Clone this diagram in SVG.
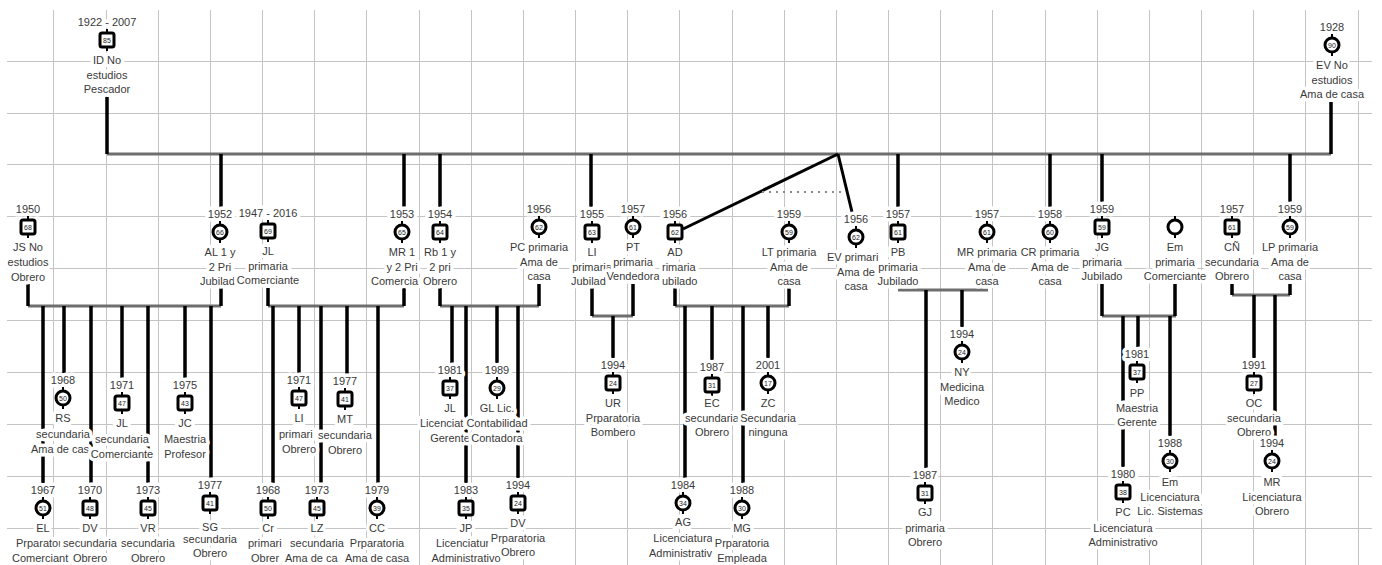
<svg xmlns="http://www.w3.org/2000/svg" xmlns:xlink="http://www.w3.org/1999/xlink" width="1382" height="565" viewBox="0 0 1382 565">
<style>
.g{stroke:#c4c4c4;stroke-width:1;fill:none}
.cp{stroke:#6e6e6e;stroke-width:3;fill:none}
.ln{stroke:#000;stroke-width:3.5;fill:none}
.dl{stroke:#000;stroke-width:3;fill:none}
.dt{stroke:#8a8a8a;stroke-width:2;stroke-dasharray:2 5;fill:none}
.t{font-family:"Liberation Sans",Arial,sans-serif;font-size:11px;fill:#3a3a3a;text-anchor:middle;stroke:#fff;stroke-width:7;stroke-linejoin:round;paint-order:stroke}
.s{text-anchor:start}
.n{font-family:"Liberation Sans",Arial,sans-serif;font-size:7px;fill:#222;text-anchor:middle}
</style>
<defs>
<g id="sq"><path d="M0,-11V-7M0,7V11" stroke="#000" stroke-width="2"/><rect x="-7" y="-7" width="14" height="14" rx="2" fill="#fff" stroke="#000" stroke-width="3"/></g>
<g id="ci"><path d="M0,-11V-7M0,7V11" stroke="#000" stroke-width="2"/><circle r="7" fill="#fff" stroke="#000" stroke-width="3"/></g>
</defs>
<rect width="1382" height="565" fill="#fff"/>
<g id="grid" class="g">
<path d="M53.5,10V565M106.5,10V565M158.5,10V565M210.5,10V565M262.5,10V565M314.5,10V565M366.5,10V565M419.5,10V565M471.5,10V565M523.5,10V565M575.5,10V565M627.5,10V565M679.5,10V565M732.5,10V565M784.5,10V565M836.5,10V565M888.5,10V565M940.5,10V565M992.5,10V565M1045.5,10V565M1097.5,10V565M1149.5,10V565M1201.5,10V565M1253.5,10V565M1305.5,10V565M1358.5,10V565"/>
<path d="M7,61.5H1372M7,113.5H1372M7,164.5H1372M7,216.5H1372M7,268.5H1372M7,320.5H1372M7,372.5H1372M7,424.5H1372M7,476.5H1372M7,528.5H1372"/>
</g>
<g id="connectors">
<path class="cp" d="M107,154H1331M28,306H221M268,306H404M440,306H539M592,316H633M675,306H789M898,290H988M1102,316H1176M1232,295H1290"/>
<path class="ln" d="M107,97V154M1331,102V154M221,154V207M404,154V207M440,154V207M591,154V207M898,154V207M1050,154V207M1102,154V202M1290,154V202"/>
<path class="dl" d="M838,154L683,229M838,154L852,212"/>
<path class="dt" d="M762,192H845"/>
<path class="ln" d="M28,284V306M221,288V306M43,306V483M64,306V373M91,306V483M122,306V378M148,306V483M185,306V378M211,306V478"/>
<path class="ln" d="M268,288V306M404,288V306M273,306V483M299,306V373M321,306V483M347,306V374M378,306V483"/>
<path class="ln" d="M440,288V306M539,284V306M452,306V363M466,306V483M497,306V363M518,306V478"/>
<path class="ln" d="M592,288V316M633,284V316M613,316V358"/>
<path class="ln" d="M675,288V306M789,288V306M685,306V478M712,306V360M743,306V483M768,306V358"/>
<path class="ln" d="M926,290V468M962,290V327"/>
<path class="ln" d="M1102,284V316M1175,284V316M1123,316V467M1138,316V347M1170,316V436"/>
<path class="ln" d="M1232,284V295M1290,284V295M1254,295V358M1275,295V436"/>
</g>
<g id="ID" transform="translate(107,40)"><text class="t" y="-14.5">1922 - 2007</text><use href="#sq"/><text class="n" y="2.5">85</text><text class="t" y="24">ID No</text><text class="t" y="38.5">estudios</text><text class="t" y="53">Pescador</text></g>
<g id="EV" transform="translate(1332,45)"><text class="t" y="-14.5">1928</text><use href="#ci"/><text class="n" y="2.5">90</text><text class="t" y="24">EV No</text><text class="t" y="38.5">estudios</text><text class="t" y="53">Ama de casa</text></g>
<g id="JS" transform="translate(28,227)"><text class="t" y="-14.5">1950</text><use href="#sq"/><text class="n" y="2.5">68</text><text class="t" y="24">JS No</text><text class="t" y="39">estudios</text><text class="t" y="54">Obrero</text></g>
<g id="AL" transform="translate(220,232)"><text class="t" y="-14.5">1952</text><use href="#ci"/><text class="n" y="2.5">66</text><text class="t" y="24">AL 1 y</text><text class="t" y="38.5">2 Pri</text><text class="t s" x="-20" y="53">Jubilad</text></g>
<g id="JL" transform="translate(268,231)"><text class="t" y="-14.5">1947 - 2016</text><use href="#sq"/><text class="n" y="2.5">69</text><text class="t" y="24">JL</text><text class="t" y="38.5">primaria</text><text class="t" y="53">Comerciante</text></g>
<g id="MR" transform="translate(402,232)"><text class="t" y="-14.5">1953</text><use href="#ci"/><text class="n" y="2.5">65</text><text class="t" y="24">MR 1</text><text class="t" y="38.5">y 2 Pri</text><text class="t s" x="-31" y="53">Comercia</text></g>
<g id="Rb" transform="translate(440,232)"><text class="t" y="-14.5">1954</text><use href="#sq"/><text class="n" y="2.5">64</text><text class="t" y="24">Rb 1 y</text><text class="t" y="38.5">2 pri</text><text class="t" y="53">Obrero</text></g>
<g id="PC" transform="translate(539,227)"><text class="t" y="-14.5">1956</text><use href="#ci"/><text class="n" y="2.5">62</text><text class="t" y="24">PC primaria</text><text class="t" y="38.5">Ama de</text><text class="t" y="53">casa</text></g>
<g id="LI" transform="translate(592,232)"><text class="t" y="-14.5">1955</text><use href="#sq"/><text class="n" y="2.5">63</text><text class="t" y="24">LI</text><text class="t" y="38.5">primaria</text><text class="t s" x="-21" y="53">Jubilad</text></g>
<g id="PT" transform="translate(633,227)"><text class="t" y="-14.5">1957</text><use href="#ci"/><text class="n" y="2.5">61</text><text class="t" y="24">PT</text><text class="t" y="38.5">primaria</text><text class="t" y="53">Vendedora</text></g>
<g id="AD" transform="translate(675,232)"><text class="t" y="-14.5">1956</text><use href="#sq"/><text class="n" y="2.5">62</text><text class="t" y="24">AD</text><text class="t s" x="-13" y="38.5">rimaria</text><text class="t s" x="-13" y="53">ubilado</text></g>
<g id="LT" transform="translate(789,232)"><text class="t" y="-14.5">1959</text><use href="#ci"/><text class="n" y="2.5">59</text><text class="t" y="24">LT primaria</text><text class="t" y="38.5">Ama de</text><text class="t" y="53">casa</text></g>
<g id="EV2" transform="translate(856,237)"><text class="t" y="-14.5">1956</text><use href="#ci"/><text class="n" y="2.5">62</text><text class="t s" x="-29" y="24">EV primari</text><text class="t" y="38.5">Ama de</text><text class="t" y="53">casa</text></g>
<g id="PB" transform="translate(898,232)"><text class="t" y="-14.5">1957</text><use href="#sq"/><text class="n" y="2.5">61</text><text class="t" y="24">PB</text><text class="t" y="38.5">primaria</text><text class="t" y="53">Jubilado</text></g>
<g id="MR2" transform="translate(987,232)"><text class="t" y="-14.5">1957</text><use href="#ci"/><text class="n" y="2.5">61</text><text class="t" y="24">MR primaria</text><text class="t" y="38.5">Ama de</text><text class="t" y="53">casa</text></g>
<g id="CR" transform="translate(1050,232)"><text class="t" y="-14.5">1958</text><use href="#ci"/><text class="n" y="2.5">60</text><text class="t" y="24">CR primaria</text><text class="t" y="38.5">Ama de</text><text class="t" y="53">casa</text></g>
<g id="JG" transform="translate(1102,227)"><text class="t" y="-14.5">1959</text><use href="#sq"/><text class="n" y="2.5">59</text><text class="t" y="24">JG</text><text class="t" y="38.5">primaria</text><text class="t" y="53">Jubilado</text></g>
<g id="Em" transform="translate(1175,227)"><use href="#ci"/><text class="t" y="24">Em</text><text class="t" y="38.5">primaria</text><text class="t" y="53">Comerciante</text></g>
<g id="CN" transform="translate(1232,227)"><text class="t" y="-14.5">1957</text><use href="#sq"/><text class="n" y="2.5">61</text><text class="t" y="24">CÑ</text><text class="t" y="38.5">secundaria</text><text class="t" y="53">Obrero</text></g>
<g id="LP" transform="translate(1290,227)"><text class="t" y="-14.5">1959</text><use href="#ci"/><text class="n" y="2.5">59</text><text class="t" y="24">LP primaria</text><text class="t" y="38.5">Ama de</text><text class="t" y="53">casa</text></g>
<g id="RS" transform="translate(63,398)"><text class="t" y="-14.5">1968</text><use href="#ci"/><text class="n" y="2.5">50</text><text class="t" y="24">RS</text><text class="t" y="39.5">secundaria</text><text class="t s" x="-32" y="55">Ama de cas</text></g>
<g id="JL3" transform="translate(122,403)"><text class="t" y="-14.5">1971</text><use href="#sq"/><text class="n" y="2.5">47</text><text class="t" y="24">JL</text><text class="t" y="39.5">secundaria</text><text class="t" y="55">Comerciante</text></g>
<g id="JC" transform="translate(185,403)"><text class="t" y="-14.5">1975</text><use href="#sq"/><text class="n" y="2.5">43</text><text class="t" y="24">JC</text><text class="t" y="39.5">Maestria</text><text class="t" y="55">Profesor</text></g>
<g id="LI3" transform="translate(299,398)"><text class="t" y="-14.5">1971</text><use href="#sq"/><text class="n" y="2.5">47</text><text class="t" y="24">LI</text><text class="t s" x="-20" y="39.5">primari</text><text class="t" y="55">Obrero</text></g>
<g id="MT" transform="translate(345,399)"><text class="t" y="-14.5">1977</text><use href="#sq"/><text class="n" y="2.5">41</text><text class="t" y="24">MT</text><text class="t" y="39.5">secundaria</text><text class="t" y="55">Obrero</text></g>
<g id="EL" transform="translate(43,508)"><text class="t" y="-14.5">1967</text><use href="#ci"/><text class="n" y="2.5">51</text><text class="t" y="24">EL</text><text class="t s" x="-27" y="39">Prparator</text><text class="t s" x="-31" y="54">Comerciant</text></g>
<g id="DV" transform="translate(90,508)"><text class="t" y="-14.5">1970</text><use href="#sq"/><text class="n" y="2.5">48</text><text class="t" y="24">DV</text><text class="t" y="39">secundaria</text><text class="t" y="54">Obrero</text></g>
<g id="VR" transform="translate(148,508)"><text class="t" y="-14.5">1973</text><use href="#sq"/><text class="n" y="2.5">45</text><text class="t" y="24">VR</text><text class="t" y="39">secundaria</text><text class="t" y="54">Obrero</text></g>
<g id="SG" transform="translate(210,503)"><text class="t" y="-14.5">1977</text><use href="#sq"/><text class="n" y="2.5">41</text><text class="t" y="28">SG</text><text class="t" y="40">secundaria</text><text class="t" y="54">Obrero</text></g>
<g id="Cr" transform="translate(268,508)"><text class="t" y="-14.5">1968</text><use href="#sq"/><text class="n" y="2.5">50</text><text class="t" y="24">Cr</text><text class="t s" x="-20" y="39">primari</text><text class="t s" x="-17" y="54">Obrer</text></g>
<g id="LZ" transform="translate(317,508)"><text class="t" y="-14.5">1973</text><use href="#sq"/><text class="n" y="2.5">45</text><text class="t" y="24">LZ</text><text class="t" y="39">secundaria</text><text class="t s" x="-32" y="54">Ama de ca</text></g>
<g id="CC" transform="translate(377,508)"><text class="t" y="-14.5">1979</text><use href="#ci"/><text class="n" y="2.5">39</text><text class="t" y="24">CC</text><text class="t" y="39">Prparatoria</text><text class="t" y="54">Ama de casa</text></g>
<g id="JL4" transform="translate(450,388)"><text class="t" y="-14.5">1981</text><use href="#sq"/><text class="n" y="2.5">37</text><text class="t" y="24">JL</text><text class="t s" x="-30" y="39">Licenciat</text><text class="t" y="54">Gerente</text></g>
<g id="GL" transform="translate(497,388)"><text class="t" y="-14.5">1989</text><use href="#ci"/><text class="n" y="2.5">29</text><text class="t" y="24">GL Lic.</text><text class="t" y="39">Contabilidad</text><text class="t" y="54">Contadora</text></g>
<g id="JP" transform="translate(466,508)"><text class="t" y="-14.5">1983</text><use href="#sq"/><text class="n" y="2.5">35</text><text class="t" y="24">JP</text><text class="t s" x="-30" y="39">Licenciatur</text><text class="t" y="54">Administrativo</text></g>
<g id="DV2" transform="translate(518,503)"><text class="t" y="-14.5">1994</text><use href="#sq"/><text class="n" y="2.5">24</text><text class="t" y="24">DV</text><text class="t" y="39">Prparatoria</text><text class="t" y="53">Obrero</text></g>
<g id="UR" transform="translate(613,383)"><text class="t" y="-14.5">1994</text><use href="#sq"/><text class="n" y="2.5">24</text><text class="t" y="24">UR</text><text class="t" y="39">Prparatoria</text><text class="t" y="53">Bombero</text></g>
<g id="EC" transform="translate(712,385)"><text class="t" y="-14.5">1987</text><use href="#sq"/><text class="n" y="2.5">31</text><text class="t" y="22">EC</text><text class="t" y="37">secundaria</text><text class="t" y="51">Obrero</text></g>
<g id="ZC" transform="translate(768,383)"><text class="t" y="-14.5">2001</text><use href="#ci"/><text class="n" y="2.5">17</text><text class="t" y="24">ZC</text><text class="t" y="39">Secundaria</text><text class="t" y="53">ninguna</text></g>
<g id="AG" transform="translate(683,503)"><text class="t" y="-14.5">1984</text><use href="#ci"/><text class="n" y="2.5">34</text><text class="t" y="23">AG</text><text class="t" y="39">Licenciatura</text><text class="t s" x="-34" y="54">Administrativ</text></g>
<g id="MG" transform="translate(742,508)"><text class="t" y="-14.5">1988</text><use href="#ci"/><text class="n" y="2.5">30</text><text class="t" y="24">MG</text><text class="t" y="39">Prparatoria</text><text class="t" y="54">Empleada</text></g>
<g id="NY" transform="translate(962,352)"><text class="t" y="-14.5">1994</text><use href="#ci"/><text class="n" y="2.5">24</text><text class="t" y="24">NY</text><text class="t" y="39">Medicina</text><text class="t" y="53">Medico</text></g>
<g id="GJ" transform="translate(925,493)"><text class="t" y="-14.5">1987</text><use href="#sq"/><text class="n" y="2.5">31</text><text class="t" y="23">GJ</text><text class="t" y="39">primaria</text><text class="t" y="53">Obrero</text></g>
<g id="PP" transform="translate(1137,372)"><text class="t" y="-14.5">1981</text><use href="#sq"/><text class="n" y="2.5">37</text><text class="t" y="25">PP</text><text class="t" y="40">Maestria</text><text class="t" y="54">Gerente</text></g>
<g id="PC2" transform="translate(1123,492)"><text class="t" y="-14.5">1980</text><use href="#sq"/><text class="n" y="2.5">38</text><text class="t" y="24">PC</text><text class="t" y="40">Licenciatura</text><text class="t" y="54">Administrativo</text></g>
<g id="Em2" transform="translate(1170,461)"><text class="t" y="-14.5">1988</text><use href="#ci"/><text class="n" y="2.5">30</text><text class="t" y="25">Em</text><text class="t" y="40">Licenciatura</text><text class="t" y="54">Lic. Sistemas</text></g>
<g id="OC" transform="translate(1254,383)"><text class="t" y="-14.5">1991</text><use href="#sq"/><text class="n" y="2.5">27</text><text class="t" y="24">OC</text><text class="t" y="39">secundaria</text><text class="t" y="53">Obrero</text></g>
<g id="MR3" transform="translate(1272,461)"><text class="t" y="-14.5">1994</text><use href="#ci"/><text class="n" y="2.5">24</text><text class="t" y="25">MR</text><text class="t" y="40">Licenciatura</text><text class="t" y="54">Obrero</text></g>
</svg>
